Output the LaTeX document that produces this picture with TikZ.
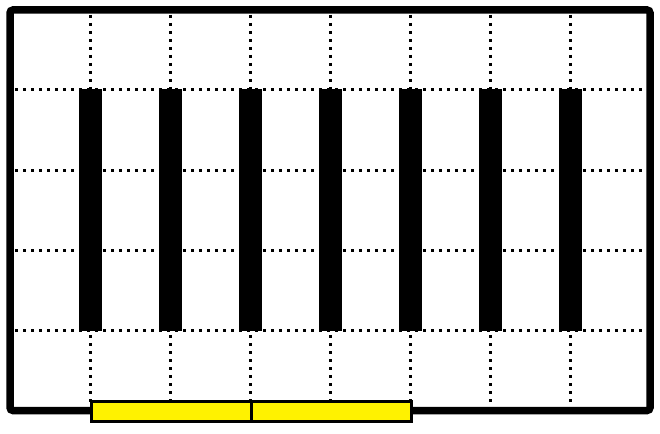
\documentclass[tikz,border=0pt]{standalone}
\begin{document}
\begin{tikzpicture}[x=1pt,y=-1pt,
  gridline/.style={line width=3pt,dash pattern=on 3pt off 5pt},
  frame/.style={line width=7.5pt,rounded corners=3pt},
  bar/.style={fill=black},
  tray/.style={draw=black,line width=3pt,fill=yellow}]
\useasboundingbox (0,0) rectangle (660,433);
\foreach \x in {90,170,250,330,410,490,570}
  \draw[gridline] (\x,15) -- (\x,406);
\foreach \y in {90,170,250,330}
  \draw[gridline] (15,\y) -- (646,\y);
\draw[frame] (10,10) rectangle (650,410.5);
\foreach \x in {90,170,250,330,410,490,570}
  \fill[bar] (\x-11.5,89) rectangle (\x+11.5,331);
\node[tray,minimum width=160pt,minimum height=20pt,inner sep=0pt,anchor=north west] (t1) at (90,400) {};
\node[tray,minimum width=160pt,minimum height=20pt,inner sep=0pt,anchor=north west] (t2) at (250,400) {};
\end{tikzpicture}
\end{document}
